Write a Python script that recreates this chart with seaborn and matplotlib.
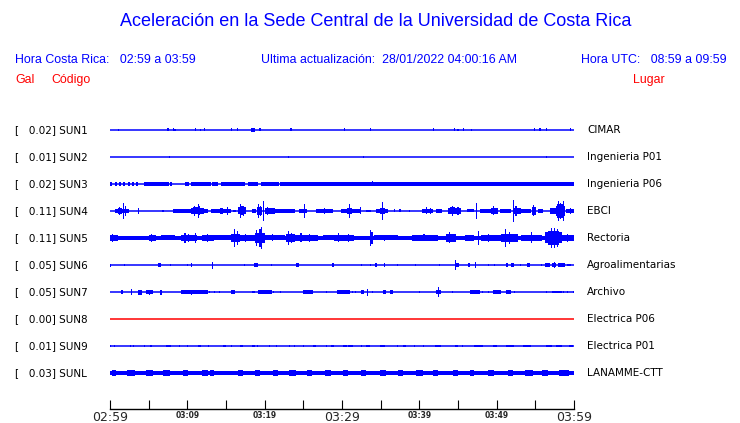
import numpy as np
import pandas as pd
import seaborn as sns
import matplotlib.pyplot as plt

# station codes, peak values (Gal) and places
codes = ["SUN1", "SUN2", "SUN3", "SUN4", "SUN5", "SUN6", "SUN7", "SUN8", "SUN9", "SUNL"]
peaks = [0.02, 0.01, 0.02, 0.11, 0.11, 0.05, 0.05, 0.00, 0.01, 0.03]
places = ["CIMAR", "Ingenieria P01", "Ingenieria P06", "EBCI", "Rectoria",
          "Agroalimentarias", "Archivo", "Electrica P06", "Electrica P01", "LANAMME-CTT"]

tick_minutes = list(range(0, 61, 5))
tick_labels = ["02:59", "", "03:09", "", "03:19", "", "03:29", "", "03:39", "", "03:49", "", "03:59"]

# envelope segments: (start minute, end minute, half amplitude in Gal)
sun1 = [(1.1, 1.1, 0.01), (7.5, 7.5, 0.015), (8.2, 8.2, 0.015), (8.4, 8.4, 0.01),
        (11.0, 11.0, 0.015), (11.7, 11.7, 0.01), (12.2, 12.2, 0.015), (15.7, 15.7, 0.015),
        (16.5, 16.5, 0.015), (18.2, 18.7, 0.02), (18.4, 18.4, 0.024), (19.4, 19.4, 0.015),
        (23.4, 23.4, 0.015), (30.3, 30.3, 0.015), (33.6, 33.8, 0.015), (41.8, 41.8, 0.015),
        (44.6, 44.6, 0.015), (45.0, 45.0, 0.012), (45.7, 45.7, 0.015), (46.7, 46.7, 0.01),
        (54.9, 54.9, 0.015), (55.6, 55.6, 0.015), (56.5, 56.5, 0.015), (59.6, 59.6, 0.015)]
sun2 = [(7.7, 7.7, 0.013), (23.1, 23.1, 0.009), (32.8, 32.8, 0.013), (56.5, 56.5, 0.009)]
sun3 = [(0.0, 0.3, 0.017), (0.6, 0.9, 0.017), (1.1, 1.4, 0.017), (1.7, 1.9, 0.017), (2.3, 2.6, 0.017),
        (2.8, 3.1, 0.017), (3.3, 3.6, 0.017), (4.4, 7.6, 0.017), (7.8, 8.0, 0.017), (9.7, 10.2, 0.017),
        (10.5, 13.0, 0.017), (13.2, 14.0, 0.017), (14.3, 17.5, 0.017), (17.9, 19.2, 0.017),
        (19.5, 21.8, 0.017), (22.0, 60.0, 0.018), (32.7, 32.7, 0.02), (33.9, 33.9, 0.025)]
sun4 = [(0.6, 2.4, 0.02), (1.0, 1.5, 0.03), (1.25, 1.25, 0.04), (1.8, 1.8, 0.08), (2.0, 2.0, 0.05),
        (3.7, 3.7, 0.03), (6.85, 6.85, 0.01),
        (8.1, 10.5, 0.018), (10.5, 12.2, 0.027), (10.7, 11.7, 0.035), (10.9, 10.9, 0.05),
        (11.4, 11.4, 0.07), (11.6, 11.6, 0.045),
        (12.2, 12.7, 0.02), (13.1, 15.7, 0.02), (14.2, 14.6, 0.027), (15.2, 15.2, 0.04),
        (15.9, 16.3, 0.013), (16.6, 17.6, 0.035), (16.8, 17.2, 0.045), (16.9, 16.9, 0.067),
        (17.3, 17.3, 0.05), (18.4, 18.9, 0.022), (19.0, 19.6, 0.04), (19.2, 19.2, 0.067),
        (19.5, 19.5, 0.05), (19.9, 19.9, 0.1), (20.0, 21.3, 0.027), (20.4, 20.4, 0.04),
        (21.3, 23.9, 0.02), (24.5, 25.5, 0.02), (25.2, 25.2, 0.073), (26.7, 28.8, 0.02),
        (27.7, 27.7, 0.03), (29.9, 32.5, 0.02), (30.6, 31.3, 0.03), (31.0, 31.0, 0.073),
        (32.4, 32.4, 0.035), (33.1, 33.8, 0.013), (34.4, 35.9, 0.022), (34.9, 35.5, 0.03),
        (35.2, 35.2, 0.09), (36.8, 36.8, 0.015), (37.5, 37.5, 0.015), (38.7, 38.7, 0.01),
        (40.3, 41.8, 0.022), (40.9, 40.9, 0.035), (41.4, 41.4, 0.03), (42.2, 42.9, 0.022),
        (43.7, 45.4, 0.027), (44.0, 44.6, 0.035), (44.3, 44.3, 0.047), (45.0, 45.0, 0.04),
        (46.1, 47.1, 0.015), (47.4, 47.4, 0.083),
        (47.8, 49.3, 0.017), (49.3, 50.2, 0.033), (49.6, 49.6, 0.045), (50.4, 51.9, 0.022),
        (52.1, 53.2, 0.03), (52.2, 52.2, 0.11), (52.5, 52.5, 0.05), (53.2, 54.5, 0.02),
        (54.6, 55.1, 0.04), (54.8, 54.8, 0.055), (55.3, 56.0, 0.022),
        (56.9, 57.7, 0.03), (57.7, 58.8, 0.05), (57.8, 58.7, 0.067), (58.0, 58.0, 0.1),
        (58.3, 58.3, 0.08), (58.6, 58.6, 0.1), (59.0, 60.0, 0.02), (59.5, 59.5, 0.03)]
sun5 = [(0.0, 60.0, 0.02), (0.0, 1.0, 0.033), (0.3, 0.3, 0.04), (5.1, 6.0, 0.03), (5.4, 5.4, 0.04),
        (6.6, 8.4, 0.025),
        (9.2, 11.2, 0.033), (9.7, 9.7, 0.05), (10.2, 10.2, 0.04), (11.0, 11.0, 0.05),
        (11.9, 13.5, 0.03), (12.6, 12.6, 0.04), (13.5, 15.7, 0.025),
        (15.7, 16.8, 0.04), (16.1, 16.1, 0.093), (16.5, 16.5, 0.067),
        (16.8, 18.7, 0.03), (17.5, 17.5, 0.04), (18.7, 20.0, 0.047), (19.0, 19.0, 0.08),
        (19.4, 19.4, 0.093), (19.6, 19.6, 0.11), (20.0, 22.6, 0.025), (21.0, 21.0, 0.035),
        (22.8, 23.9, 0.04), (23.1, 23.1, 0.073), (23.5, 23.5, 0.05),
        (23.9, 26.9, 0.03), (24.7, 24.7, 0.045), (25.8, 25.8, 0.04), (27.5, 29.0, 0.025),
        (29.0, 31.6, 0.033), (29.6, 29.6, 0.045), (30.8, 30.8, 0.04),
        (33.6, 34.0, 0.06), (33.7, 33.7, 0.08), (34.2, 37.2, 0.025), (35.5, 35.5, 0.033),
        (39.0, 42.4, 0.028), (40.6, 40.6, 0.035),
        (43.5, 44.8, 0.04), (43.9, 43.9, 0.055), (45.9, 47.1, 0.028), (47.6, 47.6, 0.073),
        (48.0, 50.6, 0.032), (49.0, 49.0, 0.04), (50.6, 52.8, 0.04), (51.2, 51.2, 0.093),
        (51.7, 51.7, 0.06), (53.2, 55.8, 0.032), (54.5, 54.5, 0.055),
        (56.2, 58.4, 0.055), (56.6, 58.0, 0.07), (57.1, 57.1, 0.1), (57.5, 57.5, 0.1),
        (57.9, 57.9, 0.093), (58.4, 60.0, 0.03), (59.2, 59.2, 0.04)]
sun6 = [(0.1, 0.1, 0.015), (1.9, 1.9, 0.008), (6.2, 6.6, 0.017), (7.8, 7.8, 0.008),
        (10.0, 10.0, 0.013), (10.5, 10.5, 0.017), (13.2, 13.2, 0.035), (17.4, 17.4, 0.013),
        (18.6, 19.2, 0.018), (20.9, 20.9, 0.008), (24.1, 24.4, 0.017), (28.7, 29.0, 0.017),
        (32.5, 32.5, 0.01), (33.7, 33.7, 0.01), (34.4, 34.4, 0.017), (35.5, 35.5, 0.017),
        (37.2, 37.2, 0.008), (39.5, 39.5, 0.008), (42.6, 42.6, 0.013), (44.7, 44.7, 0.053),
        (44.8, 45.1, 0.022), (46.3, 46.6, 0.017), (47.3, 47.3, 0.03), (49.0, 49.0, 0.013),
        (49.7, 49.7, 0.008), (51.2, 51.5, 0.017), (51.8, 52.2, 0.017), (53.1, 53.1, 0.008),
        (53.9, 54.3, 0.017), (55.8, 55.8, 0.01), (56.3, 56.9, 0.017), (57.1, 57.7, 0.022),
        (57.5, 57.5, 0.03), (57.9, 58.8, 0.017), (59.1, 59.6, 0.013)]
sun7 = [(1.4, 1.7, 0.017), (2.8, 2.8, 0.03), (3.6, 4.1, 0.025), (4.7, 5.6, 0.02),
        (5.1, 5.1, 0.025), (6.6, 6.6, 0.025), (9.2, 12.7, 0.017), (10.5, 10.5, 0.025),
        (12.9, 12.9, 0.01), (13.5, 13.5, 0.01), (14.2, 14.2, 0.01), (15.7, 16.1, 0.017),
        (18.3, 18.7, 0.013), (19.1, 20.9, 0.017), (21.1, 21.1, 0.013), (22.0, 22.0, 0.008),
        (24.9, 26.2, 0.017), (28.0, 28.0, 0.008), (29.3, 31.0, 0.017), (31.4, 31.4, 0.013),
        (31.8, 31.8, 0.013), (32.5, 32.9, 0.022), (33.3, 33.3, 0.035), (33.9, 33.9, 0.01),
        (35.3, 35.7, 0.017), (36.2, 36.6, 0.022), (40.0, 40.0, 0.008), (42.2, 42.8, 0.022),
        (42.5, 42.5, 0.05), (44.3, 44.3, 0.008), (46.5, 47.9, 0.017), (48.2, 48.2, 0.01),
        (48.9, 48.9, 0.01), (49.5, 50.6, 0.017), (51.2, 51.9, 0.022), (52.3, 52.3, 0.01),
        (56.5, 56.5, 0.01), (57.1, 58.4, 0.013), (58.6, 58.6, 0.013), (59.2, 59.2, 0.013),
        (59.9, 59.9, 0.013)]
sun8 = []
sun9 = [(0.1, 0.1, 0.012), (0.6, 0.6, 0.012), (2.7, 2.7, 0.012), (3.0, 3.0, 0.012),
        (4.5, 4.5, 0.012), (5.3, 5.3, 0.012), (7.3, 7.9, 0.012), (9.0, 9.0, 0.012),
        (9.9, 10.1, 0.012), (11.4, 11.8, 0.012), (12.7, 12.7, 0.012), (14.6, 15.0, 0.012),
        (15.7, 15.7, 0.012), (16.8, 17.2, 0.014), (18.3, 18.7, 0.012), (19.1, 19.1, 0.012),
        (20.6, 20.6, 0.012), (21.5, 21.5, 0.012), (23.2, 23.2, 0.012), (23.9, 23.9, 0.012),
        (25.0, 25.0, 0.012), (26.2, 26.7, 0.012), (28.0, 28.0, 0.012), (28.6, 29.0, 0.012),
        (30.1, 30.6, 0.012), (30.8, 31.4, 0.014), (32.5, 32.5, 0.012), (33.1, 33.6, 0.014),
        (34.9, 35.5, 0.012), (37.2, 37.2, 0.012), (37.9, 38.3, 0.012), (39.4, 39.4, 0.012),
        (40.5, 40.5, 0.012), (42.0, 42.8, 0.012), (44.6, 45.0, 0.012), (45.6, 45.6, 0.012),
        (47.1, 48.2, 0.014), (49.5, 50.0, 0.012), (51.2, 52.3, 0.014), (53.4, 54.5, 0.012),
        (56.4, 57.1, 0.012), (57.7, 58.4, 0.012), (59.4, 59.9, 0.012)]
sunl = [(0.0, 60.0, 0.022), (0.2, 0.8, 0.03), (2.2, 3.2, 0.03), (4.7, 5.6, 0.03),
        (6.9, 7.7, 0.03), (9.4, 10.1, 0.03), (11.9, 12.7, 0.03), (12.9, 13.5, 0.03),
        (16.5, 17.2, 0.03), (18.7, 19.4, 0.03), (21.1, 21.7, 0.03), (23.2, 24.1, 0.03),
        (25.5, 26.1, 0.03), (27.8, 28.6, 0.03), (30.1, 30.8, 0.03), (32.4, 33.1, 0.03),
        (34.9, 35.7, 0.03), (37.2, 37.9, 0.03), (39.6, 40.5, 0.03), (41.8, 42.4, 0.03),
        (44.3, 45.0, 0.03), (46.5, 47.1, 0.03), (48.9, 49.7, 0.03), (51.5, 52.1, 0.03),
        (53.6, 54.7, 0.03), (55.8, 56.6, 0.03), (58.1, 59.4, 0.03)]

traces = [sun1, sun2, sun3, sun4, sun5, sun6, sun7, sun8, sun9, sunl]

BLUE = "#0000ff"
RED = "#ff0000"
SPACING = 0.27  # vertical distance between traces, Gal units

sns.set_style("white")
fig = plt.figure(figsize=(7.4, 4.23), dpi=100)
W, H = 740, 423

def px(x, y):
    return x / W, 1 - y / H

ax = fig.add_axes([110 / W, 1 - 409 / H, 464 / W, 299 / H])

# baselines via seaborn
base = pd.DataFrame({
    "minute": [0, 60] * len(codes),
    "y": [-i * SPACING for i in range(len(codes)) for _ in range(2)],
    "station": [c for c in codes for _ in range(2)],
})
pal = {c: (RED if c == "SUN8" else BLUE) for c in codes}
sns.lineplot(data=base, x="minute", y="y", hue="station", palette=pal,
             legend=False, linewidth=1.1, ax=ax, estimator=None)

# envelopes
for i, segs in enumerate(traces):
    if not segs:
        continue
    s = pd.DataFrame(segs, columns=["t0", "t1", "amp"])
    off = -i * SPACING
    width = np.maximum(s.t1 - s.t0, 0.14)
    ax.bar((s.t0 + s.t1) / 2, 2 * s.amp, width=width, bottom=off - s.amp,
           color=BLUE, linewidth=0, align="center")

ax.set_xlim(0, 60)
ax.set_ylim(-(409 - 130) * 0.01, (130 - 110) * 0.01)
ax.set_yticks([])
ax.set_xlabel("")
ax.set_ylabel("")
for sp in ["top", "left", "right"]:
    ax.spines[sp].set_visible(False)
ax.spines["bottom"].set_color("black")
ax.spines["bottom"].set_linewidth(1.0)
ax.set_xticks(tick_minutes)
ax.set_xticklabels(tick_labels)
ax.tick_params(axis="x", direction="in", length=6.5, width=0.8, color="black", pad=1.5, bottom=True)
for lab in ax.get_xticklabels():
    txt = lab.get_text()
    if txt in ("02:59", "03:29", "03:59"):
        lab.set_fontsize(9)
        lab.set_family("DejaVu Sans")
    else:
        lab.set_fontsize(5.5)
        lab.set_fontweight("bold")

# station labels
for i, (c, p, pl) in enumerate(zip(codes, peaks, places)):
    y = 130 + i * 27
    fig.text(*px(15, y), f"[   {p:.2f}] {c}", fontsize=7.5, family="DejaVu Sans",
             va="center", ha="left", color="black")
    fig.text(*px(587, y), pl, fontsize=7.5, family="DejaVu Sans",
             va="center", ha="left", color="black")

# header
hf = "Liberation Sans"
fig.text(*px(376, 22), "Aceleración en la Sede Central de la Universidad de Costa Rica",
         fontsize=13, family=hf, color=BLUE, ha="center", va="center")
fig.text(*px(15, 60), "Hora Costa Rica:   02:59 a 03:59", fontsize=8.9, family=hf,
         color=BLUE, ha="left", va="center")
fig.text(*px(261, 60), "Ultima actualización:  28/01/2022 04:00:16 AM", fontsize=8.9, family=hf,
         color=BLUE, ha="left", va="center")
fig.text(*px(727, 60), "Hora UTC:   08:59 a 09:59", fontsize=8.9, family=hf,
         color=BLUE, ha="right", va="center")
fig.text(*px(15, 80), "Gal", fontsize=8.9, family=hf, color=RED, ha="left", va="center")
fig.text(*px(51, 80), "Código", fontsize=8.9, family=hf, color=RED, ha="left", va="center")
fig.text(*px(665, 80), "Lugar", fontsize=8.9, family=hf, color=RED, ha="right", va="center")

fig.savefig("out.png", dpi=100)
